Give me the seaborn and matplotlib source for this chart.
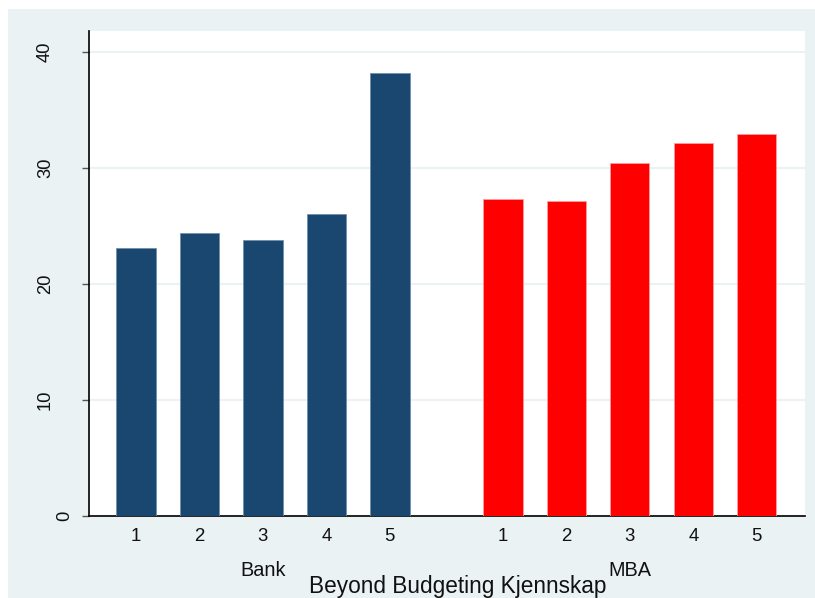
import matplotlib
matplotlib.use("Agg")
import matplotlib.pyplot as plt
from matplotlib.patches import Rectangle
from matplotlib.transforms import ScaledTranslation, blended_transform_factory
import pandas as pd
import seaborn as sns

# Mean scores by knowledge level (1-5) for each respondent group
groups = ["Bank", "MBA"]
levels = ["1", "2", "3", "4", "5"]
bank_values = [23.05, 24.37, 23.74, 26.03, 38.14]
mba_values = [27.28, 27.13, 30.40, 32.16, 32.90]
y_ticks = [0, 10, 20, 30, 40]
x_title = "Beyond Budgeting Kjennskap"

BG = "#EAF2F3"
BANK_COLOR = "#1A476F"
MBA_COLOR = "#FF0000"
GROUP_GAP = 0.78  # extra space between the two groups of bars

sns.set_theme(style="white")
plt.rcParams["font.family"] = ["Liberation Sans", "DejaVu Sans"]

# Long-format table with a numeric slot for each bar
rows = []
for g_idx, (grp, vals) in enumerate(zip(groups, [bank_values, mba_values])):
    for l_idx, (lvl, v) in enumerate(zip(levels, vals)):
        rows.append({"group": grp, "level": lvl,
                     "slot": g_idx * (len(levels) + GROUP_GAP) + l_idx,
                     "value": v})
df = pd.DataFrame(rows)

fig = plt.figure(figsize=(8.15, 5.98), dpi=100, facecolor="white")
fig.patches.append(Rectangle((8 / 815, 0), 1 - 8 / 815, 1 - 9 / 598,
                             transform=fig.transFigure, facecolor=BG,
                             edgecolor="none", zorder=-5))
ax = fig.add_axes([89 / 815, 1 - 515.7 / 598, (805 - 89) / 815, (515.7 - 31) / 598])
ax.set_facecolor("white")

sns.barplot(data=df, x="slot", y="value", hue="group",
            palette={"Bank": BANK_COLOR, "MBA": MBA_COLOR}, saturation=1,
            native_scale=True, dodge=False, width=0.62, errorbar=None,
            legend=False, ax=ax, zorder=3)
for bar, grp in zip(ax.patches, df["group"]):
    bar.set_edgecolor("#6f8fae" if grp == "Bank" else "#ff9a9a")
    bar.set_linewidth(0.6)

ax.set_xlim(-0.74, df["slot"].max() + 0.76)
ax.set_ylim(0, 41.78)

# Horizontal grid
ax.set_yticks(y_ticks)
ax.yaxis.grid(True, color=BG, linewidth=1.5, zorder=1)
ax.xaxis.grid(False)
ax.set_axisbelow(True)

ax.set_xticks(df["slot"])
ax.set_xticklabels(df["level"], fontsize=13.4, color="#111111")
ax.tick_params(axis="x", length=0, pad=8.9)

ax.set_yticklabels([str(t) for t in y_ticks], fontsize=13.2, color="#111111",
                   rotation=90, va="center")
ax.tick_params(axis="y", length=5, width=1, color="#555555", pad=6.5, left=True)
for lab in ax.get_yticklabels():
    n = len(lab.get_text())
    lab.set_transform(lab.get_transform() +
                      ScaledTranslation(-(n - 1) * 0.19, 0, fig.dpi_scale_trans))

for side in ["top", "right"]:
    ax.spines[side].set_visible(False)
for side in ["left", "bottom"]:
    ax.spines[side].set_visible(True)
    ax.spines[side].set_color("black")
    ax.spines[side].set_linewidth(1.2)

# Group names under the middle bar of each group
trans = blended_transform_factory(ax.transData, fig.transFigure)
for g_idx, grp in enumerate(groups):
    mid = g_idx * (len(levels) + GROUP_GAP) + (len(levels) - 1) / 2
    ax.text(mid, 1 - 576 / 598, grp, transform=trans, ha="center",
            va="baseline", fontsize=14.3, color="#111111")

ax.set_xlabel(x_title, fontsize=16.3, color="#111111")
ax.xaxis.set_label_coords((457.5 - 89) / (805 - 89), (515.7 - 593.3) / (515.7 - 31))
ax.xaxis.label.set_va("baseline")
ax.set_ylabel("")

fig.savefig("out.png", dpi=100, facecolor="white")
